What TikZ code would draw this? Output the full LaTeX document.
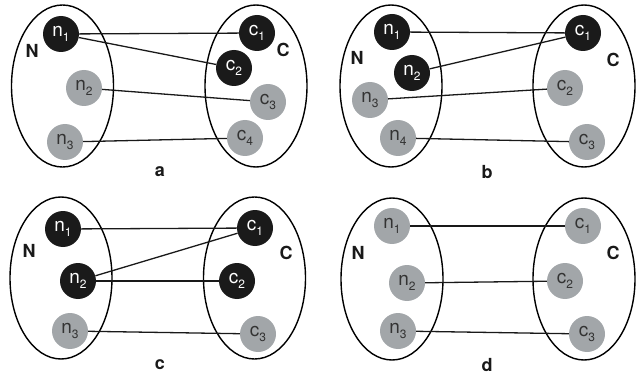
\documentclass[tikz,border=0pt]{standalone}
\usepackage{fontspec}
\setmainfont{TeX Gyre Heros}
\usetikzlibrary{shapes.geometric}
\definecolor{dotgray}{HTML}{A2A6A9}
\definecolor{dotblack}{HTML}{1A1A1A}
\definecolor{txtgray}{HTML}{333333}
\tikzset{
  setbox/.style={ellipse, draw=black, line width=1.4pt, minimum width=102pt, minimum height=162pt, inner sep=0pt},
  blk/.style={circle, fill=dotblack, text=white, minimum size=36pt, inner sep=0pt, font=\fontsize{19}{22}\selectfont},
  gry/.style={circle, fill=dotgray, text=txtgray, minimum size=36pt, inner sep=0pt, font=\fontsize{19}{22}\selectfont},
  setlab/.style={font=\fontsize{18}{21}\selectfont\bfseries, text=black!90},
  panlab/.style={font=\fontsize{18}{21}\selectfont\bfseries, text=black!90},
  link/.style={line width=1.3pt, draw=black!90}
}
\newcommand{\subnum}[1]{\raisebox{-0.45ex}{\fontsize{12}{13}\selectfont #1}}
\newcommand{\nn}[1]{n\subnum{#1}}
\newcommand{\cc}[1]{c\subnum{#1}}
\begin{document}
\begin{tikzpicture}[x=1pt,y=-1pt]
\useasboundingbox (0,0) rectangle (640,377);
% ---------- panel a
\node[setbox] (aL) at (62.5,86) {};
\node[setbox] (aR) at (256,86) {};
\node[setlab] (aN) at (32,51) {N};
\node[setlab] (aC) at (283,50) {C};
\node[blk] (an1) at (61,34) {\nn1};
\node[gry] (an2) at (84,88) {\nn2};
\node[gry] (an3) at (65,142) {\nn3};
\node[blk] (ac1) at (257,33) {\cc1};
\node[blk] (ac2) at (234,68) {\cc2};
\node[gry] (ac3) at (268,102) {\cc3};
\node[gry] (ac4) at (245,138) {\cc4};
\node[panlab] (alab) at (160,172) {a};
\draw[link] (an1) -- (ac1);
\draw[link] (an1) -- (ac2);
\draw[link] (an2) -- (ac3);
\draw[link] (an3) -- (ac4);
% ---------- panel b
\node[setbox] (bL) at (391,86) {};
\node[setbox] (bR) at (584,86) {};
\node[setlab] (bN) at (357,58) {N};
\node[setlab] (bC) at (613,60) {C};
\node[blk] (bn1) at (392,32) {\nn1};
\node[blk] (bn2) at (412,73) {\nn2};
\node[gry] (bn3) at (370,100) {\nn3};
\node[gry] (bn4) at (398,138) {\nn4};
\node[blk] (bc1) at (583,33) {\cc1};
\node[gry] (bc2) at (565,88) {\cc2};
\node[gry] (bc3) at (587,142) {\cc3};
\node[panlab] (blab) at (487,172) {b};
\draw[link] (bn1) -- (bc1);
\draw[link] (bn2) -- (bc1);
\draw[link] (bn3) -- (bc2);
\draw[link] (bn4) -- (bc3);
% ---------- panel c
\node[setbox] (cL) at (61,278) {};
\node[setbox] (cR) at (254.5,278) {};
\node[setlab] (cN) at (29,251) {N};
\node[setlab] (cC) at (286,253) {C};
\node[blk] (cn1) at (63,229) {\nn1};
\node[blk] (cn2) at (78,281) {\nn2};
\node[gry] (cn3) at (70,331) {\nn3};
\node[blk] (cc1) at (255,228) {\cc1};
\node[blk] (cc2) at (237,281) {\cc2};
\node[gry] (cc3) at (258,334) {\cc3};
\node[panlab] (clab) at (160,365) {c};
\draw[link] (cn1) -- (cc1);
\draw[link] (cn2) -- (cc1);
\draw[link] (cn2) -- (cc2);
\draw[link] (cn3) -- (cc3);
% ---------- panel d
\node[setbox] (dL) at (392,279) {};
\node[setbox] (dR) at (584,279) {};
\node[setlab] (dN) at (358,253) {N};
\node[setlab] (dC) at (613,253) {C};
\node[gry] (dn1) at (392,226) {\nn1};
\node[gry] (dn2) at (407,283) {\nn2};
\node[gry] (dn3) at (398,331) {\nn3};
\node[gry] (dc1) at (583,226) {\cc1};
\node[gry] (dc2) at (565,281) {\cc2};
\node[gry] (dc3) at (587,334) {\cc3};
\node[panlab] (dlab) at (487,365) {d};
\draw[link] (dn1) -- (dc1);
\draw[link] (dn2) -- (dc2);
\draw[link] (dn3) -- (dc3);
\end{tikzpicture}
\end{document}
